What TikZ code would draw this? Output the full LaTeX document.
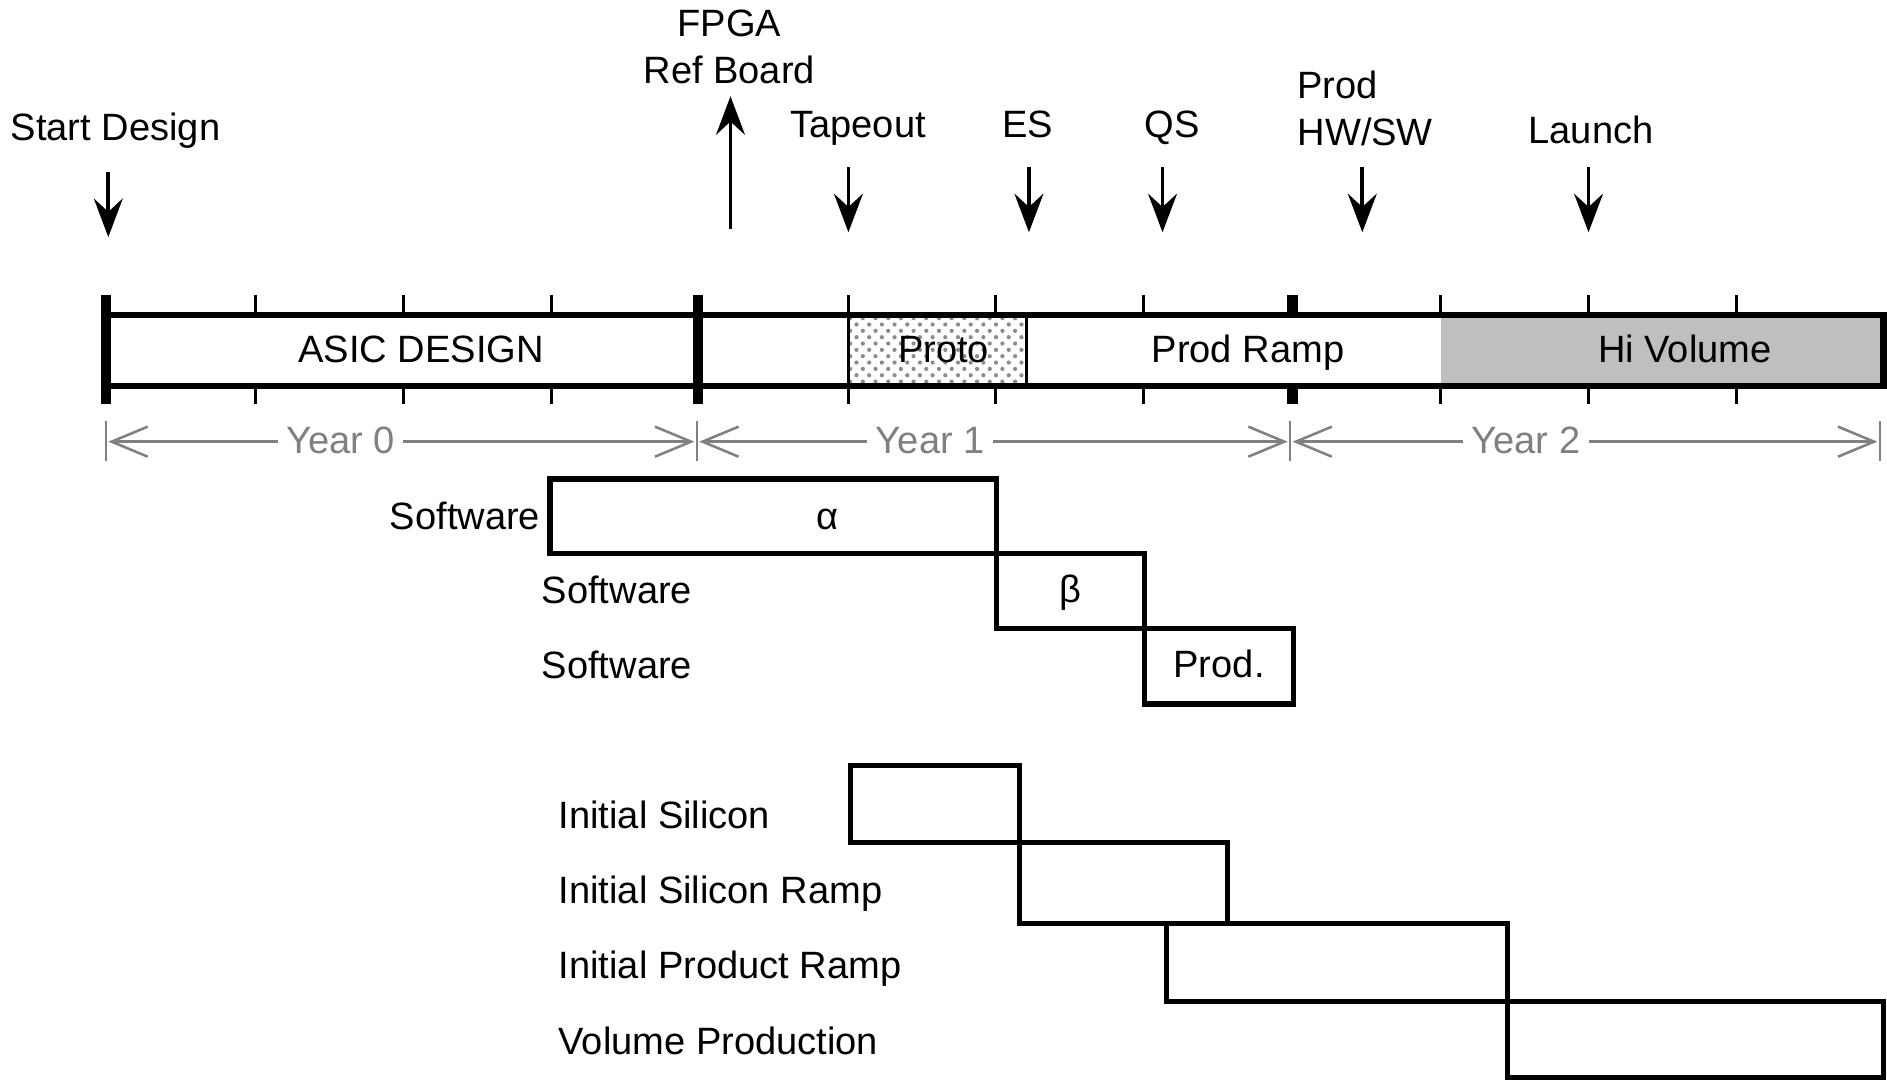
\documentclass[tikz,border=0pt]{standalone}
\usepackage{fontspec}
\setmainfont{Liberation Sans}
\usetikzlibrary{arrows.meta, patterns, positioning}
\tikzset{
    lbl/.style={font=\fontsize{9}{11}\selectfont, inner sep=1pt, align=center},
    onelbl/.style={lbl, text height=0.72em, text depth=0.16em},
    mainbar/.style={line width=1.5pt},
    divider/.style={line width=2.4pt},
    tickmark/.style={line width=0.7pt},
    yearline/.style={draw=black!50, line width=0.6pt, {Straight Barb[length=3mm,width=2.5mm]}-{Straight Barb[length=3mm,width=2.5mm]}},
    yearend/.style={draw=black!50, line width=0.6pt},
    yearlabel/.style={onelbl, text=black!50, fill=white, inner sep=2pt},
    milestone/.style={line width=0.9pt, -{Stealth[length=3.2mm,width=2.4mm,inset=1.1mm]}},
    phasebox/.style={draw, line width=1.2pt, inner sep=0pt, outer sep=0pt, anchor=north west, font=\fontsize{9}{11}\selectfont}
}

\begin{document}
\begin{tikzpicture}[x=0.1mm, y=-0.1mm]
    \useasboundingbox (0,0) rectangle (1568,897);

    % milestones
    \node[onelbl] (start) at (96,107) {Start Design};
    \node[lbl] (fpga) at (606,39) {FPGA\\Ref Board};
    \node[onelbl] (tapeout) at (713,104) {Tapeout};
    \node[onelbl] (es) at (854,104) {ES};
    \node[onelbl] (qs) at (974,104) {QS};
    \node[lbl, align=left, anchor=west] (prodhw) at (1074,90) {Prod\\HW/SW};
    \node[onelbl] (launch) at (1322,109) {Launch};

    \coordinate (start-a) at (90,143);
    \coordinate (start-b) at (90,197);
    \draw[milestone] (start-a) -- (start-b);
    \coordinate (fpga-a) at (607,190);
    \coordinate (fpga-b) at (607,80);
    \draw[milestone] (fpga-a) -- (fpga-b);
    \foreach \x/\n in {705/tapeout, 855/es, 966/qs, 1132/prodhw, 1320/launch}{
        \coordinate (\n-a) at (\x,139);
        \coordinate (\n-b) at (\x,193);
        \draw[milestone] (\n-a) -- (\n-b);
    }

    % main time bar
    \fill[pattern=crosshatch dots, pattern color=black!45] (705,262) rectangle (853,321);
    \fill[black!25] (1197,262) rectangle (1565,321);
    \draw[line width=0.7pt] (705,262) -- (705,321) (853,262) -- (853,321);
    \draw[mainbar] (88,262) rectangle (1565,321);
    \draw[divider] (88,245) -- (88,336) (580,245) -- (580,336);
    \draw[divider] (1074,245) -- (1074,262) (1074,321) -- (1074,336);
    \foreach \x in {212,335,458,705,827,950,1197,1320,1443}
        \draw[tickmark] (\x,245) -- (\x,262) (\x,321) -- (\x,336);

    \node[onelbl] (asic) at (350,291) {ASIC DESIGN};
    \node[onelbl] (proto) at (784,291) {Proto};
    \node[onelbl] (ramp) at (1037,291) {Prod Ramp};
    \node[onelbl] (hivol) at (1400,291) {Hi Volume};

    % years
    \foreach \x/\n in {88/e0, 579/e1, 1072/e2, 1562/e3}{
        \coordinate (\n-a) at (\x,350);
        \coordinate (\n-b) at (\x,383);
        \draw[yearend] (\n-a) -- (\n-b);
    }
    \coordinate (y0a) at (90,367);
    \coordinate (y0b) at (577,367);
    \coordinate (y1a) at (581,367);
    \coordinate (y1b) at (1070,367);
    \coordinate (y2a) at (1074,367);
    \coordinate (y2b) at (1560,367);
    \draw[yearline] (y0a) -- (y0b);
    \draw[yearline] (y1a) -- (y1b);
    \draw[yearline] (y2a) -- (y2b);
    \node[yearlabel] (year0) at (283,367) {Year 0};
    \node[yearlabel] (year1) at (773,367) {Year 1};
    \node[yearlabel] (year2) at (1268,367) {Year 2};

    % software
    \node[phasebox, minimum width=37.1mm, minimum height=6.2mm] (alpha) at (457,398) {};
    \node[onelbl] (alphatxt) at (688,430) {α};
    \node[phasebox, minimum width=12.3mm, minimum height=6.2mm] (beta) at (828,460) {};
    \node[onelbl] (betatxt) at (beta.center) {β};
    \node[phasebox, minimum width=12.4mm, minimum height=6.3mm] (swprod) at (951,522) {};
    \node[onelbl] (swprodtxt) at (swprod.center) {Prod.};
    \node[onelbl, anchor=east] (sw1) at (453,430) {Software};
    \node[onelbl, anchor=west] (sw2) at (446,492) {Software};
    \node[onelbl, anchor=west] (sw3) at (446,554) {Software};

    % silicon
    \node[phasebox, minimum width=14.0mm, minimum height=6.4mm] (sil1) at (707,636) {};
    \node[phasebox, minimum width=17.3mm, minimum height=6.7mm] (sil2) at (847,700) {};
    \node[phasebox, minimum width=28.4mm, minimum height=6.5mm] (sil3) at (969,767) {};
    \node[phasebox, minimum width=31.2mm, minimum height=6.3mm] (sil4) at (1253,832) {};
    \node[onelbl, anchor=west] (sil1txt) at (460,679) {Initial Silicon};
    \node[onelbl, anchor=west] (sil2txt) at (460,741) {Initial Silicon Ramp};
    \node[onelbl, anchor=west] (sil3txt) at (460,803) {Initial Product Ramp};
    \node[onelbl, anchor=west] (sil4txt) at (460,866) {Volume Production};
\end{tikzpicture}
\end{document}
